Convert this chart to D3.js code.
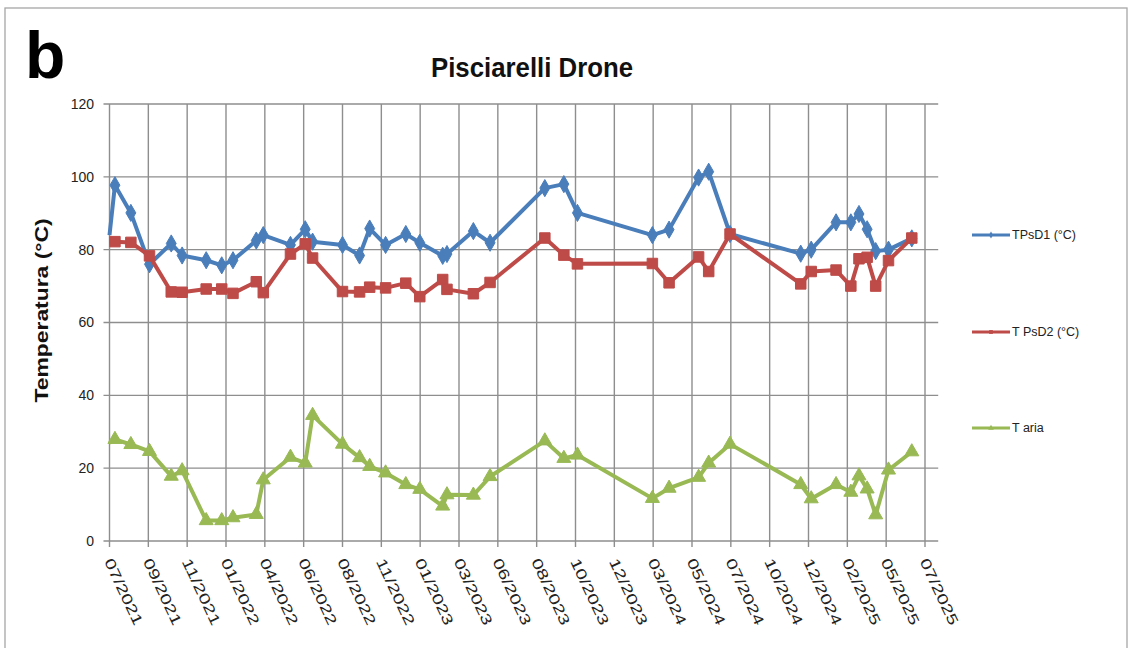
<!DOCTYPE html>
<html>
<head>
<meta charset="utf-8">
<script src="https://cdn.jsdelivr.net/npm/d3@7"></script>
<style>
  html, body { margin: 0; padding: 0; background: #fff; }
  svg { display: block; }
</style>
</head>
<body>
<svg id="chart" width="1131" height="648"></svg>
<script>
// ---- data ----
const xLabels = ["07/2021","09/2021","11/2021","01/2022","04/2022","06/2022","08/2022","11/2022","01/2023","03/2023","06/2023","08/2023","10/2023","12/2023","03/2024","05/2024","07/2024","10/2024","12/2024","02/2025","05/2025","07/2025"];
const yTicks = [0, 20, 40, 60, 80, 100, 120];
// sampling positions, in units of the category axis (0 = 07/2021 ... 21 = 07/2025)
const xPos = [0,0.14,0.55,1.03,1.59,1.87,2.49,2.89,3.18,3.78,3.96,4.66,5.04,5.23,6.0,6.44,6.70,7.11,7.63,7.99,8.58,8.69,9.37,9.80,11.21,11.70,12.05,13.98,14.41,15.17,15.43,15.98,17.80,18.07,18.71,19.09,19.30,19.51,19.73,20.06,20.66];
const tpsd1 = [84,97.7,90.1,76,81.7,78.4,77.1,75.7,77.1,82.5,84.0,81.3,85.6,82.2,81.3,78.4,85.8,81.3,84.3,81.9,78.3,78.8,85.1,81.9,96.9,98.0,90.1,84.0,85.5,99.8,101.4,84.3,78.9,80.0,87.5,87.5,89.8,85.6,79.6,80.0,83.1];
const tpsd2 = [82,82.2,82,78.3,68.4,68.3,69.2,69.2,68.0,71.2,68.2,78.8,81.6,77.7,68.5,68.4,69.7,69.5,70.8,67.1,71.8,69.1,67.9,71.0,83.2,78.5,76.1,76.2,70.9,78.0,74.0,84.3,70.6,74.0,74.4,70.0,77.5,77.9,70.0,77.0,83.2];
const tAria = [27,27.9,26.5,24.6,17.8,19.3,5.6,5.6,6.4,7.3,16.8,23.0,21.4,34.5,26.6,22.9,20.5,18.7,15.5,14.2,9.6,12.7,12.6,17.7,27.5,22.7,23.6,11.7,14.5,17.5,21.4,26.6,15.5,11.6,15.5,13.4,17.9,14.3,7.2,19.5,24.5];
const seriesNames = ["TPsD1 (°C)", "T PsD2 (°C)", "T aria"];
const title = "Pisciarelli Drone";
const yTitle = "Temperatura (°C)";
const panelLetter = "b";

// ---- layout ----
const svg = d3.select("#chart");
const colors = ["#4A7EBB", "#BE4B48", "#98B954"];
const symbols = [d3.symbolDiamond, d3.symbolSquare, d3.symbolTriangle];
const symSizes = [85, 110, 85];

const x = d3.scaleLinear().domain([0, xLabels.length - 1]).range([109.5, 925]);
const y = d3.scaleLinear().domain([0, 120]).range([541, 104]);
const xMaxPlot = 21.34; // plot area extends a little past the last category

// outer frame
svg.append("rect").attr("x", 5).attr("y", 8).attr("width", 1122).attr("height", 660)
  .attr("fill", "none").attr("stroke", "#a6a6a6").attr("stroke-width", 1.3);

// panel letter
svg.append("text").attr("x", 25).attr("y", 78)
  .attr("font-family", "Liberation Sans, Arial, sans-serif").attr("font-weight", "bold")
  .attr("font-size", 66).attr("fill", "#000").text(panelLetter);

// title
svg.append("text").attr("x", 532).attr("y", 77).attr("text-anchor", "middle")
  .attr("font-family", "Liberation Sans, Arial, sans-serif").attr("font-weight", "bold")
  .attr("font-size", 28).attr("textLength", 202).attr("lengthAdjust", "spacingAndGlyphs")
  .attr("fill", "#111").text(title);

const grid = svg.append("g");
// horizontal gridlines
grid.selectAll("line.h").data(yTicks).join("line")
  .attr("x1", x(0) - 6).attr("x2", x(xMaxPlot))
  .attr("y1", d => y(d)).attr("y2", d => y(d))
  .attr("stroke", "#8e8e8e").attr("stroke-width", 1.4);
// vertical gridlines (+ tick marks below axis)
grid.selectAll("line.v").data(xLabels).join("line")
  .attr("x1", (d, i) => x(i)).attr("x2", (d, i) => x(i))
  .attr("y1", y(120)).attr("y2", y(0) + 6)
  .attr("stroke", "#8e8e8e").attr("stroke-width", 1.4);

// y tick labels
svg.append("g").selectAll("text").data(yTicks).join("text")
  .attr("x", 94).attr("y", d => y(d)).attr("dy", "0.35em")
  .attr("text-anchor", "end")
  .attr("font-family", "Liberation Sans, Arial, sans-serif").attr("font-size", 14)
  .attr("fill", "#222").text(d => d);

// x tick labels
svg.append("g").selectAll("text").data(xLabels).join("text")
  .attr("transform", (d, i) => `translate(${x(i) - 1},${y(0) + 18}) rotate(65)`)
  .attr("dy", "0.35em")
  .attr("font-family", "Liberation Sans, Arial, sans-serif").attr("font-size", 14.5)
  .attr("textLength", 72).attr("lengthAdjust", "spacingAndGlyphs")
  .attr("fill", "#222").text(d => d);

// y axis title
svg.append("text")
  .attr("transform", `translate(48,${(y(0) + y(120)) / 2 - 12}) rotate(-90)`)
  .attr("text-anchor", "middle")
  .attr("font-family", "Liberation Sans, Arial, sans-serif").attr("font-weight", "bold")
  .attr("font-size", 19).attr("textLength", 184).attr("lengthAdjust", "spacingAndGlyphs")
  .attr("fill", "#111").text(yTitle);

// series
const allSeries = [tpsd1, tpsd2, tAria];
const line = d3.line().x(d => x(d[0])).y(d => y(d[1]));
allSeries.forEach((vals, s) => {
  const pts = xPos.map((p, i) => [p, vals[i]]);
  const g = svg.append("g");
  g.append("path").datum(pts).attr("d", line)
    .attr("fill", "none").attr("stroke", colors[s]).attr("stroke-width", 4)
    .attr("stroke-linejoin", "round");
  g.selectAll("path.m").data(pts.slice(1)).join("path")
    .attr("transform", d => `translate(${x(d[0])},${y(d[1])})`)
    .attr("d", d3.symbol().type(symbols[s]).size(symSizes[s]))
    .attr("fill", colors[s]).attr("stroke", colors[s]).attr("stroke-width", 1);
});

// legend
const legY = [235, 332, 428];
const leg = svg.append("g");
seriesNames.forEach((name, s) => {
  leg.append("line").attr("x1", 972).attr("x2", 1010).attr("y1", legY[s]).attr("y2", legY[s])
    .attr("stroke", colors[s]).attr("stroke-width", 3);
  leg.append("path").attr("transform", `translate(991,${legY[s]})`)
    .attr("d", d3.symbol().type(symbols[s]).size(14)).attr("fill", colors[s]);
  leg.append("text").attr("x", 1012).attr("y", legY[s]).attr("dy", "0.35em")
    .attr("font-family", "Liberation Sans, Arial, sans-serif").attr("font-size", 12.5)
    .attr("fill", "#222").text(name);
});
</script>
</body>
</html>
